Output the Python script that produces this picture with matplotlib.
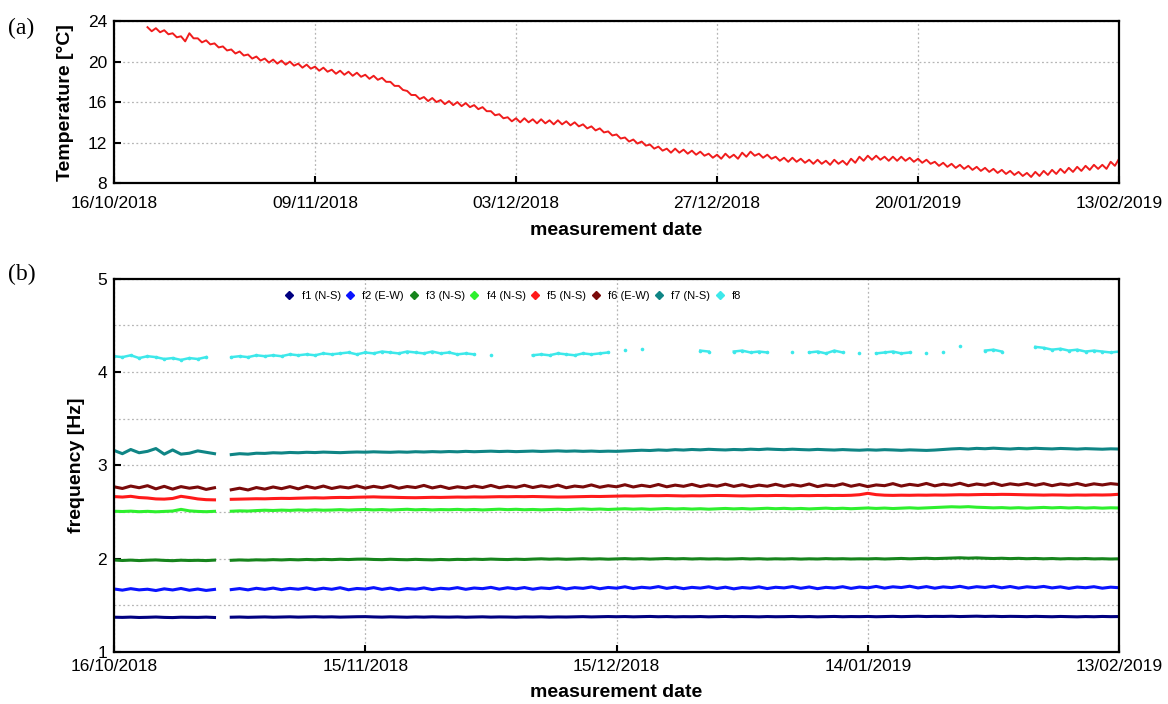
import datetime
import numpy as np
import matplotlib
matplotlib.use("Agg")
import matplotlib.pyplot as plt
import matplotlib.dates as mdates
from matplotlib.lines import Line2D
from matplotlib.ticker import MultipleLocator

nan = np.nan
t0 = datetime.datetime(2018, 10, 16)

# --- (a) temperature, two readings per day from day 4 ---
temp_days = np.arange(4, 120.01, 0.5)
temp_c = [
    23.4, 23.0, 23.3, 22.9, 23.1, 22.7, 22.8, 22.4, 22.5, 22.0,
    22.8, 22.3, 22.3, 21.9, 22.1, 21.7, 21.8, 21.4, 21.5, 21.1,
    21.2, 20.8, 21.0, 20.6, 20.7, 20.3, 20.5, 20.1, 20.3, 19.9,
    20.2, 19.8, 20.1, 19.7, 20.0, 19.6, 19.8, 19.4, 19.7, 19.3,
    19.5, 19.1, 19.4, 19.0, 19.2, 18.8, 19.1, 18.7, 19.0, 18.6,
    18.9, 18.5, 18.7, 18.3, 18.6, 18.2, 18.4, 18.0, 18.0, 17.6,
    17.6, 17.2, 17.1, 16.7, 16.7, 16.3, 16.5, 16.1, 16.4, 16.0,
    16.2, 15.8, 16.1, 15.7, 16.0, 15.6, 15.9, 15.5, 15.7, 15.3,
    15.5, 15.1, 15.1, 14.7, 14.8, 14.4, 14.5, 14.1, 14.4, 14.0,
    14.4, 14.0, 14.3, 13.9, 14.3, 13.9, 14.2, 13.8, 14.2, 13.8,
    14.1, 13.7, 14.0, 13.6, 13.8, 13.4, 13.6, 13.2, 13.4, 13.0,
    13.1, 12.7, 12.8, 12.4, 12.5, 12.1, 12.3, 11.9, 12.1, 11.7,
    11.8, 11.4, 11.6, 11.2, 11.4, 11.0, 11.4, 11.0, 11.3, 10.9,
    11.2, 10.8, 11.1, 10.7, 10.9, 10.5, 10.8, 10.4, 10.9, 10.5,
    10.8, 10.4, 11.0, 10.6, 11.1, 10.7, 10.9, 10.5, 10.8, 10.4,
    10.6, 10.2, 10.5, 10.1, 10.5, 10.1, 10.4, 10.0, 10.3, 9.9,
    10.3, 9.9, 10.2, 9.8, 10.3, 9.9, 10.2, 9.8, 10.4, 10.0,
    10.6, 10.2, 10.7, 10.3, 10.7, 10.3, 10.6, 10.2, 10.6, 10.2,
    10.6, 10.2, 10.5, 10.1, 10.4, 10.0, 10.3, 9.9, 10.1, 9.7,
    10.0, 9.6, 9.9, 9.5, 9.8, 9.4, 9.7, 9.3, 9.6, 9.2,
    9.5, 9.1, 9.4, 9.0, 9.3, 8.9, 9.2, 8.8, 9.1, 8.7,
    9.0, 8.6, 9.1, 8.7, 9.2, 8.8, 9.3, 8.9, 9.4, 9.0,
    9.5, 9.1, 9.6, 9.2, 9.7, 9.3, 9.8, 9.4, 9.8, 9.4,
    10.1, 9.7, 10.4,
]

# --- (b) natural frequencies, daily ---
freq_days = np.arange(0, 121)
f1 = [
    1.372, 1.370, 1.373, 1.369, 1.371, 1.374, 1.370, 1.368, 1.372, 1.371,
    1.370, 1.373, 1.369, nan, 1.372, 1.374, 1.371, 1.373, 1.375, 1.372,
    1.374, 1.376, 1.373, 1.375, 1.377, 1.374, 1.376, 1.373, 1.375, 1.377,
    1.378, 1.375, 1.373, 1.376, 1.374, 1.372, 1.375, 1.373, 1.376, 1.374,
    1.373, 1.375, 1.372, 1.374, 1.376, 1.373, 1.375, 1.374, 1.372, 1.375,
    1.374, 1.376, 1.373, 1.375, 1.374, 1.376, 1.378, 1.375, 1.377, 1.379,
    1.377, 1.379, 1.376, 1.378, 1.380, 1.377, 1.379, 1.376, 1.378, 1.377,
    1.379, 1.376, 1.378, 1.380, 1.377, 1.379, 1.378, 1.376, 1.379, 1.377,
    1.378, 1.380, 1.377, 1.379, 1.376, 1.378, 1.380, 1.377, 1.379, 1.378,
    1.380, 1.377, 1.379, 1.381, 1.378, 1.380, 1.382, 1.379, 1.381, 1.380,
    1.382, 1.379, 1.381, 1.383, 1.380, 1.382, 1.379, 1.381, 1.380, 1.378,
    1.381, 1.379, 1.377, 1.380, 1.378, 1.376, 1.379, 1.377, 1.380, 1.378,
    1.379,
]
f2 = [
    1.675, 1.662, 1.678, 1.665, 1.672, 1.658, 1.676, 1.664, 1.680, 1.661,
    1.674, 1.659, 1.670, nan, 1.668, 1.679, 1.665, 1.682, 1.670, 1.684,
    1.667, 1.681, 1.672, 1.686, 1.668, 1.683, 1.671, 1.688, 1.666, 1.680,
    1.674, 1.689, 1.670, 1.684, 1.665, 1.679, 1.672, 1.686, 1.668, 1.682,
    1.675, 1.689, 1.671, 1.685, 1.678, 1.692, 1.673, 1.688, 1.676, 1.690,
    1.672, 1.686, 1.679, 1.694, 1.675, 1.689, 1.681, 1.696, 1.677, 1.691,
    1.683, 1.698, 1.679, 1.693, 1.685, 1.700, 1.681, 1.695, 1.678, 1.692,
    1.684, 1.698, 1.680, 1.694, 1.676, 1.690, 1.683, 1.697, 1.679, 1.693,
    1.686, 1.700, 1.682, 1.696, 1.678, 1.692, 1.685, 1.699, 1.681, 1.695,
    1.687, 1.702, 1.684, 1.698, 1.690, 1.704, 1.686, 1.700, 1.683, 1.697,
    1.689, 1.703, 1.685, 1.699, 1.691, 1.705, 1.687, 1.701, 1.684, 1.698,
    1.690, 1.702, 1.686, 1.697, 1.681, 1.695, 1.688, 1.699, 1.683, 1.694,
    1.688,
]
f3 = [
    1.985, 1.980, 1.984, 1.979, 1.983, 1.986, 1.981, 1.978, 1.983, 1.980,
    1.982, 1.979, 1.984, nan, 1.982, 1.986, 1.983, 1.987, 1.985, 1.989,
    1.986, 1.990, 1.987, 1.991, 1.988, 1.992, 1.989, 1.993, 1.990, 1.994,
    1.995, 1.991, 1.989, 1.993, 1.990, 1.988, 1.992, 1.989, 1.987, 1.991,
    1.988, 1.992, 1.990, 1.994, 1.991, 1.995, 1.992, 1.990, 1.994, 1.991,
    1.995, 1.998, 1.994, 1.997, 1.993, 1.996, 1.999, 1.995, 1.998, 1.994,
    1.997, 2.000, 1.996, 1.999, 1.995, 1.998, 2.001, 1.997, 2.000, 1.996,
    1.999, 1.996, 1.998, 1.995, 1.997, 2.000, 1.996, 1.999, 1.995, 1.998,
    1.996, 1.999, 1.995, 1.998, 1.996, 2.000, 1.997, 1.999, 1.996, 1.998,
    1.997, 2.000, 1.996, 1.999, 2.002, 1.998, 2.001, 2.004, 2.000, 2.003,
    2.006, 2.009, 2.005, 2.008, 2.004, 2.001, 2.004, 2.000, 2.003, 1.999,
    2.002, 1.998, 2.001, 1.997, 2.000, 1.998, 2.001, 1.997, 1.999, 1.996,
    1.998,
]
f4 = [
    2.508, 2.505, 2.509, 2.503, 2.507, 2.502, 2.506, 2.510, 2.528, 2.512,
    2.506, 2.503, 2.507, nan, 2.508, 2.512, 2.510, 2.515, 2.519, 2.516,
    2.520, 2.517, 2.522, 2.518, 2.523, 2.519, 2.521, 2.525, 2.520, 2.524,
    2.527, 2.522, 2.526, 2.521, 2.525, 2.529, 2.523, 2.527, 2.522, 2.526,
    2.524, 2.528, 2.523, 2.527, 2.522, 2.526, 2.530, 2.525, 2.529, 2.524,
    2.527, 2.523, 2.526, 2.530, 2.525, 2.529, 2.533, 2.528, 2.532, 2.527,
    2.531, 2.535, 2.530, 2.534, 2.529, 2.533, 2.537, 2.532, 2.536, 2.531,
    2.535, 2.530, 2.534, 2.538, 2.533, 2.537, 2.532, 2.536, 2.540, 2.535,
    2.539, 2.534, 2.538, 2.533, 2.537, 2.541, 2.536, 2.540, 2.535, 2.539,
    2.543, 2.538, 2.542, 2.537, 2.541, 2.545, 2.540, 2.544, 2.548, 2.552,
    2.556, 2.553, 2.557, 2.551, 2.548, 2.544, 2.547, 2.542, 2.546, 2.541,
    2.545, 2.549, 2.544, 2.548, 2.543, 2.547, 2.542, 2.546, 2.541, 2.545,
    2.543,
]
f5 = [
    2.665, 2.660, 2.668, 2.655, 2.650, 2.640, 2.638, 2.645, 2.668, 2.655,
    2.640, 2.632, 2.630, nan, 2.636, 2.638, 2.640, 2.642, 2.641, 2.644,
    2.646, 2.645, 2.648, 2.650, 2.652, 2.650, 2.654, 2.656, 2.655, 2.658,
    2.660, 2.662, 2.659, 2.658, 2.656, 2.654, 2.653, 2.655, 2.657, 2.656,
    2.658, 2.660, 2.659, 2.661, 2.660, 2.662, 2.664, 2.663, 2.665, 2.664,
    2.666, 2.664, 2.662, 2.660, 2.661, 2.663, 2.665, 2.667, 2.666, 2.668,
    2.670, 2.672, 2.671, 2.673, 2.675, 2.674, 2.676, 2.674, 2.672, 2.674,
    2.673, 2.675, 2.677, 2.676, 2.674, 2.672, 2.674, 2.676, 2.675, 2.677,
    2.676, 2.674, 2.676, 2.675, 2.677, 2.676, 2.678, 2.677, 2.679, 2.685,
    2.700, 2.686, 2.680, 2.678, 2.680, 2.679, 2.681, 2.680, 2.682, 2.681,
    2.683, 2.685, 2.684, 2.686, 2.688, 2.687, 2.689, 2.688, 2.686, 2.684,
    2.683, 2.681, 2.683, 2.682, 2.680, 2.682, 2.681, 2.683, 2.682, 2.684,
    2.690,
]
f6 = [
    2.770, 2.752, 2.778, 2.760, 2.782, 2.748, 2.775, 2.745, 2.772, 2.755,
    2.768, 2.742, 2.760, nan, 2.738, 2.755, 2.736, 2.762, 2.745, 2.768,
    2.750, 2.772, 2.748, 2.775, 2.755, 2.778, 2.752, 2.770, 2.758, 2.780,
    2.756, 2.775, 2.760, 2.782, 2.755, 2.773, 2.762, 2.785, 2.758, 2.776,
    2.752, 2.770, 2.758, 2.778, 2.762, 2.785, 2.760, 2.776, 2.764, 2.786,
    2.762, 2.780, 2.766, 2.788, 2.760, 2.778, 2.768, 2.790, 2.765, 2.782,
    2.770, 2.792, 2.768, 2.786, 2.772, 2.795, 2.770, 2.788, 2.775, 2.796,
    2.772, 2.790, 2.776, 2.798, 2.774, 2.792, 2.770, 2.788, 2.776, 2.797,
    2.775, 2.793, 2.778, 2.800, 2.772, 2.790, 2.780, 2.802, 2.776, 2.794,
    2.772, 2.790, 2.782, 2.804, 2.778, 2.796, 2.784, 2.806, 2.780, 2.798,
    2.786, 2.808, 2.782, 2.800, 2.788, 2.810, 2.784, 2.802, 2.790, 2.806,
    2.786, 2.804, 2.782, 2.800, 2.788, 2.806, 2.784, 2.802, 2.790, 2.804,
    2.795,
]
f7 = [
    3.160, 3.125, 3.170, 3.135, 3.150, 3.180, 3.120, 3.165, 3.120, 3.130,
    3.155, 3.140, 3.125, nan, 3.115, 3.125, 3.120, 3.130, 3.128, 3.135,
    3.132, 3.138, 3.135, 3.140, 3.137, 3.142, 3.139, 3.136, 3.140, 3.143,
    3.141, 3.145, 3.142, 3.140, 3.144, 3.141, 3.146, 3.143, 3.147, 3.144,
    3.148, 3.145, 3.150, 3.146, 3.149, 3.152, 3.148, 3.151, 3.147, 3.150,
    3.153, 3.149, 3.152, 3.155, 3.151, 3.154, 3.150, 3.153, 3.149, 3.152,
    3.150, 3.154, 3.158, 3.162, 3.159, 3.165, 3.161, 3.168, 3.164, 3.170,
    3.166, 3.172, 3.168, 3.165, 3.170, 3.167, 3.173, 3.169, 3.175, 3.171,
    3.168, 3.173, 3.169, 3.166, 3.171, 3.167, 3.164, 3.169, 3.165, 3.162,
    3.167, 3.163, 3.168, 3.165, 3.161, 3.166, 3.163, 3.160, 3.164, 3.170,
    3.176, 3.180, 3.175, 3.182, 3.178, 3.184, 3.179, 3.175, 3.181, 3.177,
    3.183, 3.179, 3.176, 3.181, 3.178, 3.174, 3.179, 3.176, 3.173, 3.177,
    3.175,
]
f8 = [
    4.17, 4.16, 4.18, 4.15, 4.17, 4.16, 4.14, 4.15, 4.13, 4.15,
    4.14, 4.16, nan, nan, 4.16, 4.17, 4.16, 4.18, 4.17, 4.18,
    4.17, 4.19, 4.18, 4.19, 4.18, 4.20, 4.19, 4.20, 4.21, 4.19,
    4.21, 4.20, 4.22, 4.21, 4.20, 4.22, 4.21, 4.20, 4.22, 4.20,
    4.21, 4.19, 4.20, 4.19, nan, 4.18, nan, nan, nan, nan,
    4.18, 4.19, 4.18, 4.20, 4.19, 4.18, 4.20, 4.19, 4.20, 4.21,
    nan, 4.24, nan, 4.25, nan, nan, nan, nan, nan, nan,
    4.23, 4.22, nan, nan, 4.22, 4.23, 4.21, 4.22, 4.21, nan,
    nan, 4.21, nan, 4.21, 4.22, 4.20, 4.23, 4.21, nan, 4.20,
    nan, 4.20, 4.21, 4.22, 4.20, 4.21, nan, 4.20, nan, 4.21,
    nan, 4.28, nan, nan, 4.23, 4.24, 4.22, nan, nan, nan,
    4.27, 4.26, 4.24, 4.25, 4.23, 4.24, 4.22, 4.23, 4.22, 4.21,
    4.22,
]

freq_series = [f1, f2, f3, f4, f5, f6, f7, f8]
freq_labels = ["f1 (N-S)", "f2 (E-W)", "f3 (N-S)", "f4 (N-S)",
               "f5 (N-S)", "f6 (E-W)", "f7 (N-S)", "f8"]
freq_colors = ["#000080", "#0a14ff", "#16841c", "#2ef02e",
               "#ff1a1a", "#7a0a0a", "#0f8585", "#3de8ea"]

ticks_a = [0, 24, 48, 72, 96, 120]
ticks_b = [0, 30, 60, 90, 120]


def to_dates(days):
    return [t0 + datetime.timedelta(days=float(d)) for d in days]


plt.rcParams['font.family'] = ['Liberation Sans', 'DejaVu Sans']

fig = plt.figure(figsize=(11.68, 7.04), dpi=100)
ax_a = fig.add_axes([0.0976, 0.740, 0.8605, 0.230])
ax_b = fig.add_axes([0.0976, 0.074, 0.8605, 0.530])

grid_kw = dict(color="#b5b5b5", linestyle=(0, (1.5, 2.0)), linewidth=0.9)

# (a)
ax_a.plot(to_dates(temp_days), temp_c, color="#f01c1c", lw=1.4)
ax_a.set_ylim(8, 24)
ax_a.set_yticks([8, 12, 16, 20, 24])
ax_a.set_xlim(t0, t0 + datetime.timedelta(days=120))
ax_a.set_xticks(to_dates(ticks_a))
ax_a.set_ylabel("Temperature [°C]", fontsize=14, fontweight="bold", labelpad=10)
ax_a.set_xlabel("measurement date", fontsize=14, fontweight="bold", labelpad=8)
ax_a.grid(True, **grid_kw)

# (b)
for vals, col in zip(freq_series, freq_colors):
    if col == freq_colors[-1]:
        ax_b.plot(to_dates(freq_days), vals, color=col, lw=1.8,
                  marker="o", ms=2.6, mew=0)
    else:
        ax_b.plot(to_dates(freq_days), vals, color=col, lw=2.2)
ax_b.set_ylim(1, 5)
ax_b.set_yticks([1, 2, 3, 4, 5])
ax_b.yaxis.set_minor_locator(MultipleLocator(0.5))
ax_b.set_xlim(t0, t0 + datetime.timedelta(days=120))
ax_b.set_xticks(to_dates(ticks_b))
ax_b.set_ylabel("frequency [Hz]", fontsize=14, fontweight="bold", labelpad=9)
ax_b.set_xlabel("measurement date", fontsize=14, fontweight="bold", labelpad=7)
ax_b.grid(True, which="both", **grid_kw)

handles = [Line2D([], [], color=c, marker="D", ms=4.5, ls="none") for c in freq_colors]
ax_b.legend(handles, freq_labels, ncol=8, loc="upper left",
            bbox_to_anchor=(0.158, 0.995), frameon=False, fontsize=8,
            handletextpad=0.5, columnspacing=0.25, handlelength=1.2)

for ax in (ax_a, ax_b):
    ax.xaxis.set_major_formatter(mdates.DateFormatter("%d/%m/%Y"))
    ax.tick_params(axis="both", which="major", direction="in", length=5,
                   width=1.5, labelsize=12.5, pad=5, top=False, right=False)
    ax.tick_params(axis="y", which="minor", length=0)
    for sp in ax.spines.values():
        sp.set_linewidth(1.6)
    ax.set_axisbelow(True)
ax_a.tick_params(axis="x", pad=9)

fig.text(0.007, 0.975, "(a)", fontsize=17, family="Liberation Serif", va="top")
fig.text(0.007, 0.625, "(b)", fontsize=17, family="Liberation Serif", va="top")

fig.savefig("out.png", dpi=100)
